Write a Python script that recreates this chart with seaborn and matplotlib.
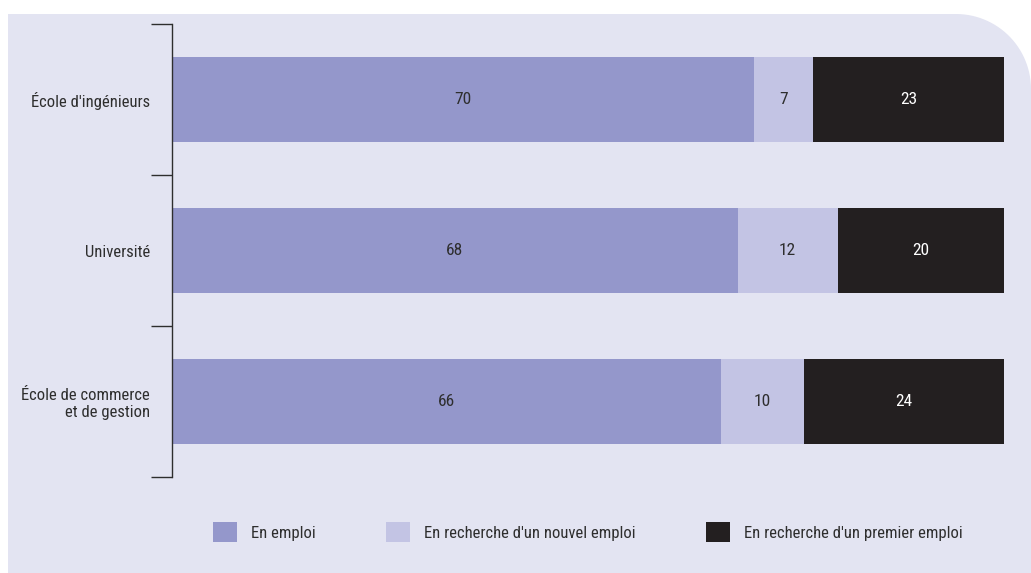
import matplotlib
matplotlib.use("Agg")
import matplotlib.pyplot as plt
from matplotlib import font_manager
from matplotlib.patches import Patch, Polygon
import numpy as np
import pandas as pd
import seaborn as sns

# Data (percentages)
categories = ["École d'ingénieurs", "Université", "École de commerce\net de gestion"]
en_emploi = [70, 68, 66]
nouvel_emploi = [7, 12, 10]
premier_emploi = [23, 20, 24]
series_labels = ["En emploi", "En recherche d'un nouvel emploi",
                 "En recherche d'un premier emploi"]

COLORS = ["#9497cb", "#c3c4e4", "#231f20"]
PANEL = "#e3e4f2"
TEXT = "#2e2e2e"
W, H = 1031, 573

# the original uses a narrow sans; take a condensed face if one is installed
installed = {f.name for f in font_manager.fontManager.ttflist}
condensed = {f.name for f in font_manager.fontManager.ttflist
             if "condensed" in str(f.stretch) or "Condensed" in f.fname or "Narrow" in f.fname}
FONT, FS, STRETCH = "Roboto", 10.5, "normal"
for cand in ["Roboto Condensed", "Liberation Sans Narrow", "Open Sans Condensed",
             "Noto Sans Condensed"]:
    if cand in installed:
        FONT, FS = cand, 12
        break
else:
    if "DejaVu Sans" in condensed:
        FONT, FS, STRETCH = "DejaVu Sans", 11, "condensed"

sns.set_style("white")
plt.rcParams["font.family"] = [FONT, "DejaVu Sans"]
plt.rcParams["font.stretch"] = STRETCH
plt.rcParams["font.size"] = FS
plt.rcParams["text.color"] = TEXT

fig = plt.figure(figsize=(W / 100, H / 100), dpi=100, facecolor="white")

# Lavender panel with rounded top-right corner (pixel coords, origin top-left)
left, top, r = 8, 14, 75
t = np.linspace(np.pi / 2, 0, 30)
pts = [(left, H), (left, top), (W - r, top)]
pts += [(W - r + r * np.cos(a), top + r - r * np.sin(a)) for a in t]
pts += [(W, H)]
pts = [(x / W, 1 - y / H) for x, y in pts]
fig.add_artist(Polygon(pts, closed=True, transform=fig.transFigure,
                       facecolor=PANEL, edgecolor="none", zorder=-10))

ax = fig.add_axes([172 / W, 1 - 477 / H, (1004 - 172) / W, (477 - 24) / H])
ax.patch.set_alpha(0)

stack = np.column_stack([en_emploi, nouvel_emploi, premier_emploi])
cum = np.cumsum(stack, axis=1)
df = pd.DataFrame({"categorie": categories})

# Draw widest cumulative bar first so narrower ones sit on top
for i in range(2, -1, -1):
    df["v"] = cum[:, i]
    sns.barplot(data=df, x="v", y="categorie", orient="h", color=COLORS[i],
                saturation=1, width=0.56, linewidth=0, ax=ax)

for row in range(len(categories)):
    start = 0
    for i in range(3):
        v = stack[row, i]
        ax.text(start + v / 2, row, str(v), ha="center", va="center",
                color="white" if i == 2 else TEXT, fontsize=FS + 0.5)
        start += v

ax.set_xlim(0, 100)
ax.set_ylim(2.5, -0.5)
ax.set_xlabel(""); ax.set_ylabel("")
ax.xaxis.set_visible(False)
ax.spines[["top", "right", "bottom"]].set_visible(False)
ax.spines["left"].set_color(TEXT)
ax.spines["left"].set_linewidth(1)
ax.set_yticks([-0.5, 0.5, 1.5, 2.5], minor=True)
ax.tick_params(axis="y", which="minor", left=True, length=15, width=1, color=TEXT)
ax.tick_params(axis="y", which="major", left=False, length=0, pad=16,
               labelcolor=TEXT, labelsize=FS)

handles = [Patch(facecolor=c, edgecolor="none") for c in COLORS]
fig.legend(handles, series_labels, loc="center", bbox_to_anchor=(588 / W, 1 - 532 / H),
           ncol=3, frameon=False, handlelength=1.45, handleheight=1.45,
           handletextpad=0.85, columnspacing=4.2, fontsize=FS)

fig.savefig("out.png", dpi=100, facecolor="white")
